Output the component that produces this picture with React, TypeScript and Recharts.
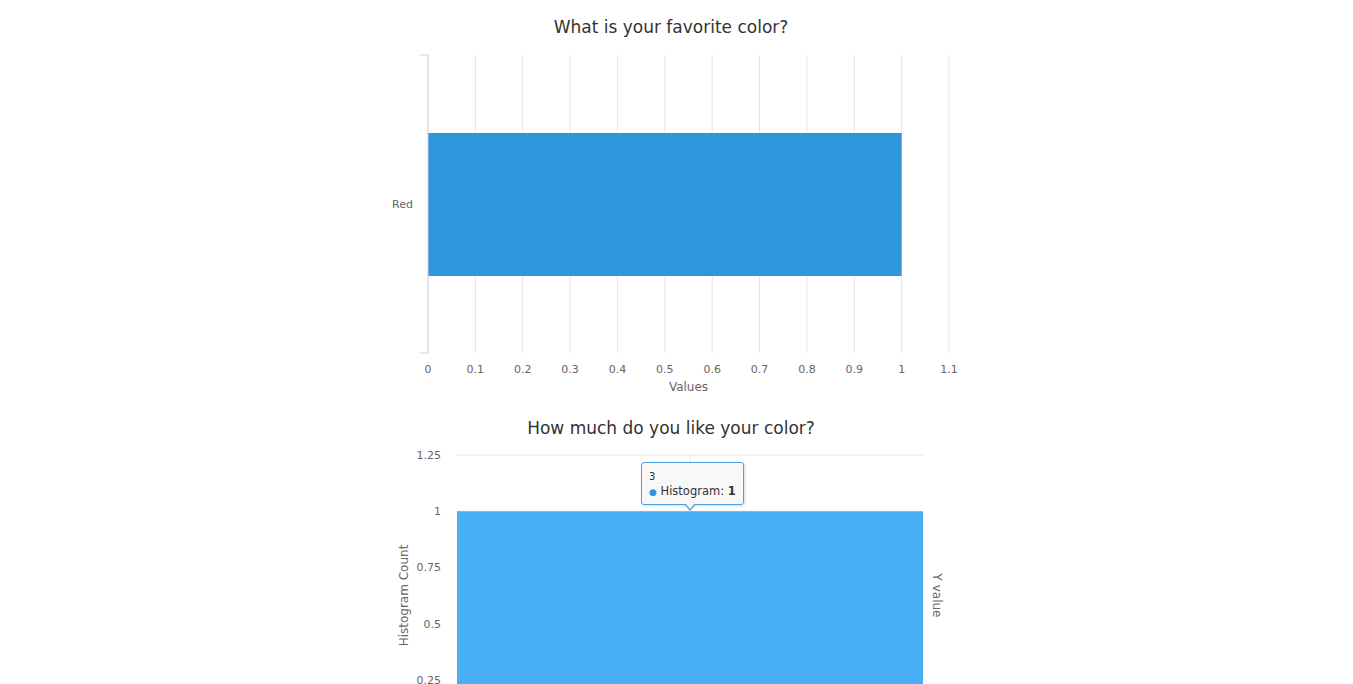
import React from 'react';
import {
  BarChart,
  Bar,
  XAxis,
  YAxis,
  CartesianGrid,
  Tooltip,
} from 'recharts';

const colorCategories = ['Red'];
const colorValues = [1];
const valueTicks = [0, 0.1, 0.2, 0.3, 0.4, 0.5, 0.6, 0.7, 0.8, 0.9, 1, 1.1];

const likeCategories = ['3'];
const likeCounts = [1];
const countTicks = [0, 0.25, 0.5, 0.75, 1, 1.25];

const FONT = '"DejaVu Sans", Verdana, sans-serif';
const tickStyle = { fontSize: 11, fill: '#666666', fontFamily: FONT };

const colorData = colorCategories.map((name, i) => ({ name, value: colorValues[i] }));
const likeData = likeCategories.map((name, i) => ({ name, count: likeCounts[i] }));

function Title({ text, top }: { text: string; top: number }) {
  return (
    <div
      style={{
        position: 'absolute',
        left: 0,
        top,
        width: 1342,
        textAlign: 'center',
        fontFamily: FONT,
        fontSize: 17,
        color: '#333333',
      }}
    >
      {text}
    </div>
  );
}

// category label plus tick marks on the band edges (Highcharts style)
function CatTick({ x, y, payload }: any) {
  const half = payload && payload.offset ? payload.offset : 0;
  const axisX = x + 15;
  return (
    <g>
      <text x={x} y={y} dy="0.355em" textAnchor="end" {...tickStyle}>
        {payload.value}
      </text>
      {half > 0 && (
        <>
          <line x1={axisX - 8} x2={axisX} y1={y - half} y2={y - half} stroke="#ccd6eb" />
          <line x1={axisX - 8} x2={axisX} y1={y + half} y2={y + half} stroke="#ccd6eb" />
        </>
      )}
    </g>
  );
}

function HistTooltip({ active, payload, label }: any) {
  if (!active || !payload || !payload.length) return null;
  return (
    <div
      style={{
        position: 'relative',
        width: 103,
        height: 43,
        boxSizing: 'border-box',
        background: 'rgba(247,247,247,0.9)',
        border: '1px solid #4aa3df',
        borderRadius: 3,
        padding: '8px 7px',
        fontFamily: FONT,
        color: '#333333',
        boxShadow: '1px 1px 3px rgba(0,0,0,0.15)',
      }}
    >
      <div style={{ fontSize: 10, lineHeight: '12px' }}>{label}</div>
      <div style={{ fontSize: 11.5, lineHeight: '16px', whiteSpace: 'nowrap' }}>
        <span style={{ color: '#2f96dc', fontSize: 9 }}>●</span> Histogram: <b>{payload[0].value}</b>
      </div>
      <div
        style={{
          position: 'absolute',
          left: 42,
          bottom: -7,
          width: 0,
          height: 0,
          borderLeft: '6px solid transparent',
          borderRight: '6px solid transparent',
          borderTop: '7px solid #4aa3df',
        }}
      />
      <div
        style={{
          position: 'absolute',
          left: 43,
          bottom: -5,
          width: 0,
          height: 0,
          borderLeft: '5px solid transparent',
          borderRight: '5px solid transparent',
          borderTop: '6px solid #f7f7f7',
        }}
      />
    </div>
  );
}

export default function App() {
  return (
    <div style={{ position: 'absolute', left: 0, top: 0, width: 1353, height: 800 }}>
      <Title text="What is your favorite color?" top={17} />
      <div style={{ position: 'absolute', left: 0, top: 0 }}>
        <BarChart
          width={1353}
          height={400}
          data={colorData}
          layout="vertical"
          margin={{ top: 55, right: 404, bottom: 0, left: 0 }}
        >
          <CartesianGrid stroke="#e6e6e6" horizontal={false} />
          <XAxis
            type="number"
            domain={[0, 1.1]}
            ticks={valueTicks}
            axisLine={false}
            tickLine={false}
            tick={tickStyle}
            tickMargin={6}
            height={47}
            label={{
              value: 'Values',
              position: 'insideBottom',
              offset: 9,
              style: { fontSize: 12, fill: '#666666', fontFamily: FONT },
            }}
          />
          <YAxis
            type="category"
            dataKey="name"
            width={428}
            tickLine={false}
            tickSize={8}
            tickMargin={7}
            axisLine={{ stroke: '#ccd6eb' }}
            tick={<CatTick />}
          />
          <Bar
            dataKey="value"
            fill="#2f96dc"
            barSize={143}
            isAnimationActive={false}
          />
        </BarChart>
      </div>

      <Title text="How much do you like your color?" top={418} />
      <div style={{ position: 'absolute', left: 0, top: 400 }}>
        <BarChart
          width={1353}
          height={400}
          data={likeData}
          barCategoryGap={0}
          margin={{ top: 55, right: 402, bottom: 0, left: 371 }}
        >
          <CartesianGrid stroke="#e6e6e6" syncWithTicks yAxisId="left" />
          <XAxis
            dataKey="name"
            tickLine={false}
            axisLine={{ stroke: '#ccd6eb' }}
            tick={tickStyle}
            height={64}
          />
          <YAxis
            yAxisId="left"
            domain={[0, 1.25]}
            ticks={countTicks}
            width={86}
            axisLine={false}
            tickLine={false}
            tickSize={8}
            tickMargin={8}
            tick={tickStyle}
            label={{
              value: 'Histogram Count',
              angle: -90,
              position: 'insideLeft',
              offset: 33,
              style: { textAnchor: 'middle', fontSize: 12, fill: '#666666', fontFamily: FONT },
            }}
          />
          <YAxis
            yAxisId="right"
            orientation="right"
            domain={[0, 1.25]}
            ticks={countTicks}
            width={28}
            axisLine={false}
            tickLine={false}
            tick={false}
            label={{
              value: 'Y value',
              angle: 90,
              position: 'center',
              style: { textAnchor: 'middle', fontSize: 12, fill: '#666666', fontFamily: FONT },
            }}
          />
          <Tooltip
            content={<HistTooltip />}
            defaultIndex={0}
            active={true}
            cursor={false}
            position={{ x: 641, y: 62 }}
            isAnimationActive={false}
            wrapperStyle={{ outline: 'none' }}
          />
          <Bar
            yAxisId="left"
            dataKey="count"
            name="Histogram"
            fill="#48aff5"
            isAnimationActive={false}
          />
        </BarChart>
      </div>
    </div>
  );
}
